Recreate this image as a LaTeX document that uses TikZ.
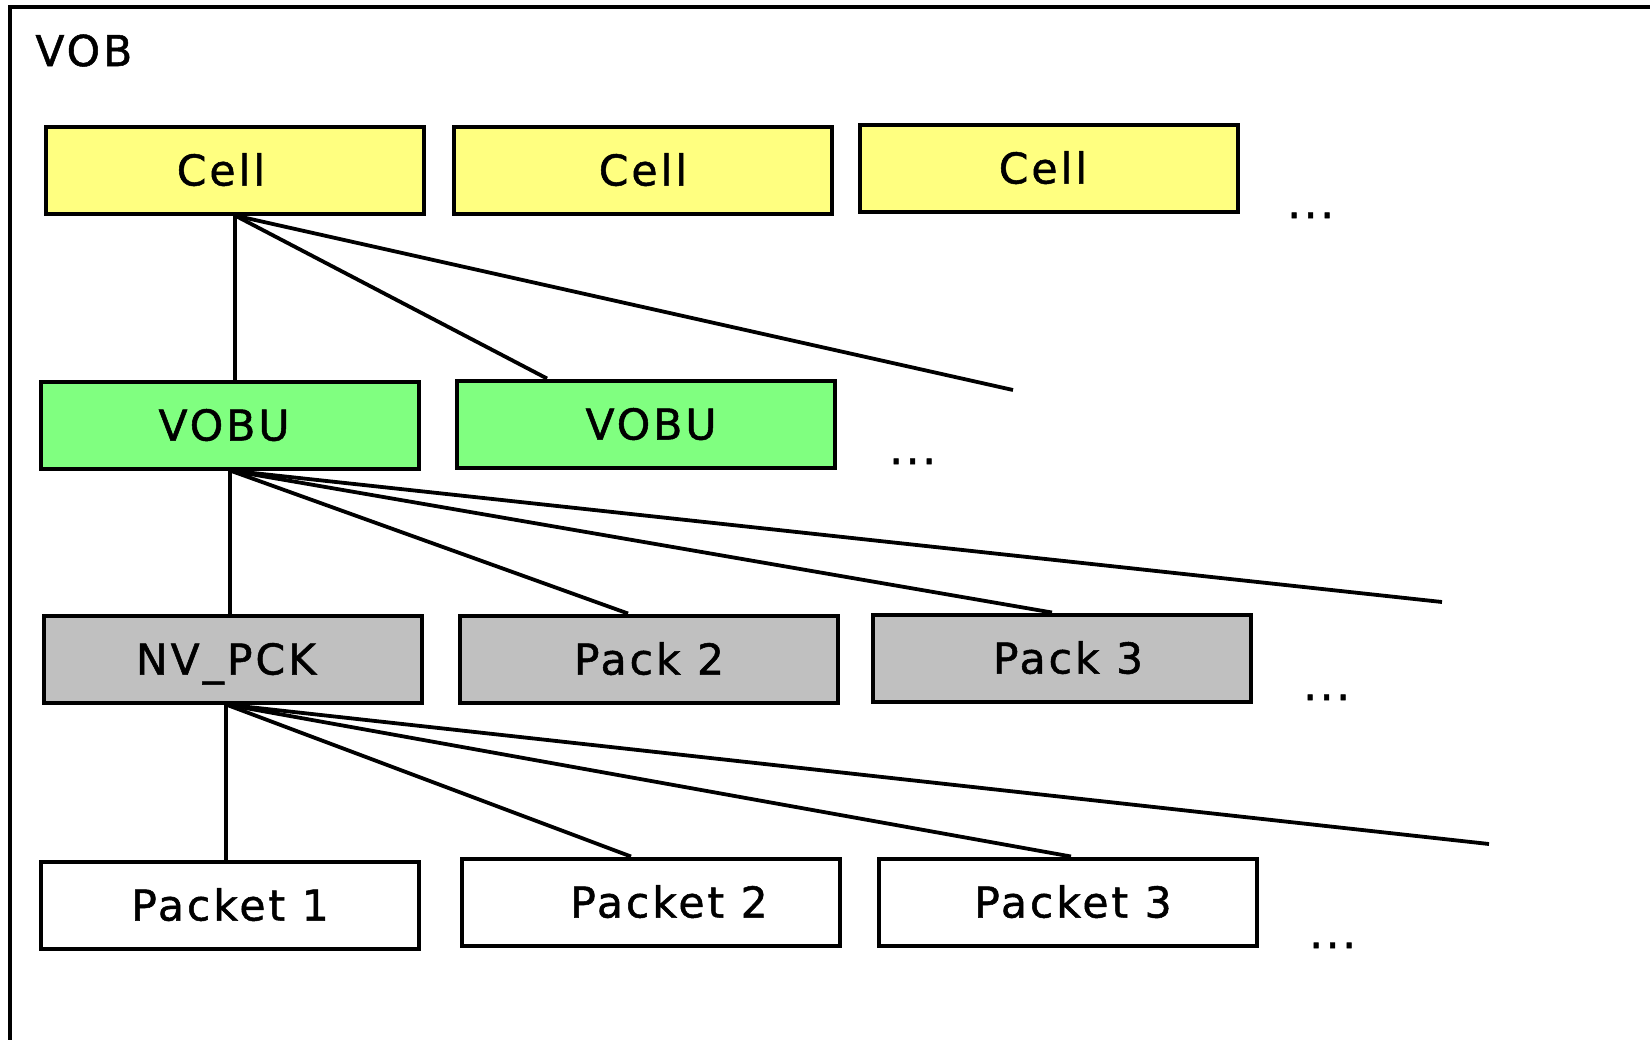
\documentclass[tikz,border=0pt]{standalone}
\usepackage{fontspec}
\setmainfont{DejaVu Sans}[LetterSpace=7,FakeBold=1.2]
\usepackage{tikz}
\usepackage{xcolor}
\usetikzlibrary{arrows.meta,shapes}
\definecolor{cellyellow}{RGB}{255,255,128}
\definecolor{vobugreen}{RGB}{128,255,128}
\definecolor{packgrey}{RGB}{192,192,192}

\begin{document}
\begin{tikzpicture}[x=0.5pt,y=-0.5pt,
  txt/.style={font=\fontsize{21.25pt}{25pt}\selectfont},
  box/.style={txt,draw,line width=2pt,minimum width=189pt,minimum height=43.5pt,
    inner sep=0pt,text height=15.5pt,text depth=0pt},
  cellbox/.style={box,fill=cellyellow},
  vobubox/.style={box,fill=vobugreen},
  packbox/.style={box,fill=packgrey},
  packetbox/.style={box,fill=white},
  link/.style={line width=1.9pt},
  more/.style={txt,anchor=base west,inner sep=0pt}]
\useasboundingbox(0,0)rectangle(1650,1040);
\draw[line width=2pt](1650,7)--(10,7)--(10,1040);
\node[txt,anchor=base west,inner sep=0pt](vob)at(35,66){VOB};

\node[cellbox](c1)at(235,170){Cell\hspace*{14pt}};
\node[cellbox](c2)at(643,170){Cell};
\node[cellbox](c3)at(1049,168){Cell\hspace*{6pt}};
\node[more](d1)at(1287,218){...};

\node[vobubox](v1)at(230,425){VOBU\hspace*{6pt}};
\node[vobubox](v2)at(646,424){\hspace*{5pt}VOBU};
\node[more](d2)at(889,464){...};

\node[packbox](p1)at(233,659){NV\_PCK\hspace*{7pt}};
\node[packbox](p2)at(649,659){Pack 2};
\node[packbox](p3)at(1062,658){\hspace*{6pt}Pack 3};
\node[more](d3)at(1303,700){...};

\node[packetbox](k1)at(230,905){Packet 1};
\node[packetbox](k2)at(651,902){\hspace*{18pt}Packet 2};
\node[packetbox](k3)at(1068,902){\hspace*{5pt}Packet 3};
\node[more](d4)at(1309,948){...};

\coordinate(cfree)at(1013,390);
\coordinate(vfree)at(1442,602);
\coordinate(pfree)at(1489,844);

\draw[link](c1.south)--(c1.south|-v1.north);
\draw[link](c1.south)--([xshift=46pt]v2.north west);
\draw[link](c1.south)--(cfree);

\draw[link](v1.south)--(v1.south|-p1.north);
\draw[link](v1.south)--([xshift=85pt]p2.north west);
\draw[link](v1.south)--([xshift=90.5pt]p3.north west);
\draw[link](v1.south)--(vfree);

\draw[link]([xshift=-3.5pt]p1.south)--([xshift=-3.5pt]p1.south|-k1.north);
\draw[link]([xshift=-3.5pt]p1.south)--([xshift=85.5pt]k2.north west);
\draw[link]([xshift=-3.5pt]p1.south)--([xshift=97pt]k3.north west);
\draw[link]([xshift=-3.5pt]p1.south)--(pfree);
\end{tikzpicture}
\end{document}
